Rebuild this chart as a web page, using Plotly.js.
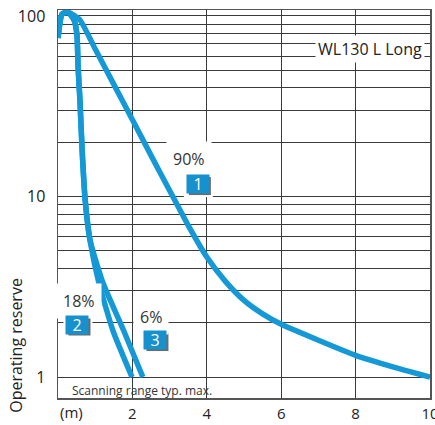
<!DOCTYPE html>
<html>
<head>
<meta charset="utf-8">
<script src="https://cdn.plot.ly/plotly-3.0.1.min.js"></script>
<style>html,body{margin:0;padding:0;background:#fff;}#chart{width:435px;height:425px;}</style>
</head>
<body>
<div id="chart"></div>
<script>
// ---- data ----
var curve1X = [0, 0.11, 0.27, 0.59, 1.0, 1.5, 2.0, 2.5, 3.0, 3.5, 4.0, 4.5, 5.0, 5.5, 6.0, 7.0, 8.0, 9.0, 10];
var curve1Y = [75.5, 102.6, 105, 95, 65.6, 41.8, 26.6, 16.9, 10.8, 6.92, 4.62, 3.39, 2.66, 2.24, 1.96, 1.6, 1.32, 1.14, 1.0];
var curve2X = [0, 0.11, 0.27, 0.43, 0.51, 0.54, 0.59, 0.645, 0.73, 0.86, 1.1, 1.48, 1.99];
var curve2Y = [75.5, 102.6, 105, 95, 78.5, 52, 34.2, 18.8, 9.6, 5.74, 3.32, 1.8, 1.0];
var curve3X = [0, 0.11, 0.27, 0.43, 0.51, 0.54, 0.59, 0.645, 0.73, 0.86, 1.21, 1.77, 2.28];
var curve3Y = [75.5, 102.6, 105, 95, 78.5, 52, 34.2, 18.8, 9.6, 5.74, 3.32, 1.8, 1.0];
var xTickVals = [2, 4, 6, 8, 10];
var xTickText = ["2", "4", "6", "8", "10"];
var yGridVals = [1,2,3,4,5,6,7,8,9,10,20,30,40,50,60,70,80,90,100];
var yLabelVals = [1, 10, 100];
var percentLabels = ["90%", "18%", "6%"];
var boxLabels = ["1", "2", "3"];
var titleText = "WL130 L Long";
var yTitle = "Operating reserve";
var xUnit = "(m)";
var rangeNote = "Scanning range typ. max.";

// ---- style ----
var blue = "#1599d6";
var boxBlue = "#1791cd";
var font = "'Open Sans', 'Noto Sans', sans-serif";
var yMinLog = -0.116, yMaxLog = 2.033;

function line(x, y) {
  return {x: x, y: y, type: "scatter", mode: "lines",
    line: {color: blue, width: 5.5, shape: "spline", smoothing: 0.5},
    hoverinfo: "skip", showlegend: false};
}

var yTickText = yGridVals.map(function (v) { return yLabelVals.indexOf(v) >= 0 ? String(v) : ""; });

// label positions (x in data units, y in log10 units)
var pctPos = [[3.52, 1.21], [0.565, 0.421], [2.5, 0.33]];
var boxPos = [[3.76, 1.069], [0.524, 0.291], [2.62, 0.205]];

var annotations = [], shapes = [];
percentLabels.forEach(function (t, i) {
  annotations.push({x: pctPos[i][0], y: pctPos[i][1], xref: "x", yref: "y", text: t, showarrow: false,
    font: {family: font, size: 16, color: "#333"}, bgcolor: "#fff", borderpad: 6});
});
boxLabels.forEach(function (t, i) {
  var p = boxPos[i];
  var py = (p[1] - yMinLog) / (yMaxLog - yMinLog);
  shapes.push({type: "rect", xref: "x", yref: "paper", xsizemode: "pixel", ysizemode: "pixel",
    xanchor: p[0], yanchor: py, x0: -14, x1: 15, y0: -13, y1: 12, fillcolor: "#fff", line: {width: 0}, layer: "above"});
  shapes.push({type: "rect", xref: "x", yref: "paper", xsizemode: "pixel", ysizemode: "pixel",
    xanchor: p[0], yanchor: py, x0: -9, x1: 13, y0: -11, y1: 7, fillcolor: "#6b6b6b", line: {width: 0}, layer: "above"});
  annotations.push({x: p[0], y: p[1], xref: "x", yref: "y", text: t, showarrow: false,
    width: 22, height: 18, bgcolor: boxBlue, font: {family: font, size: 16, color: "#fff"}, borderpad: 0});
});
annotations.push({x: 8.39, y: 1.817, xref: "x", yref: "y", text: titleText, showarrow: false,
  font: {family: font, size: 16, color: "#222"}, bgcolor: "#fff", borderpad: 2});
annotations.push({x: 0.32, y: -0.072, xref: "x", yref: "y", xanchor: "left", text: rangeNote, showarrow: false,
  font: {family: font, size: 12, color: "#333"}});
annotations.push({x: 0, y: 0, xref: "x", yref: "paper", xanchor: "left", yanchor: "top", yshift: -2, text: xUnit,
  showarrow: false, font: {family: font, size: 15, color: "#222"}});
annotations.push({x: -0.113, y: 0.137, xref: "paper", yref: "paper", xanchor: "center", yanchor: "middle",
  textangle: -90, text: yTitle, showarrow: false, font: {family: font, size: 16, color: "#222"}});

var layout = {
  width: 435, height: 425,
  margin: {l: 58, r: 5, t: 10, b: 27, pad: 0},
  paper_bgcolor: "#fff", plot_bgcolor: "#fff",
  font: {family: font, size: 16, color: "#222"},
  showlegend: false,
  xaxis: {range: [0, 10], tickvals: xTickVals, ticktext: xTickText, showgrid: true, gridcolor: "#3a3a3a", gridwidth: 1,
    zeroline: false, showline: true, linecolor: "#555", linewidth: 1.5, mirror: true, ticklabeloverflow: "allow",
    ticks: "outside", ticklen: 1, tickcolor: "rgba(0,0,0,0)", tickfont: {family: font, size: 15, color: "#222"}},
  yaxis: {type: "log", range: [yMinLog, yMaxLog], tickvals: yGridVals, ticktext: yTickText, showgrid: true,
    gridcolor: "#3a3a3a", gridwidth: 1, zeroline: false, showline: true, linecolor: "#555", linewidth: 1.5, mirror: true,
    ticks: "outside", ticklen: 8, tickcolor: "rgba(0,0,0,0)", tickfont: {family: font, size: 16, color: "#222"}},
  shapes: shapes,
  annotations: annotations
};

Plotly.newPlot("chart", [line(curve1X, curve1Y), line(curve2X, curve2Y), line(curve3X, curve3Y)], layout,
  {displayModeBar: false, staticPlot: true});
</script>
</body>
</html>
